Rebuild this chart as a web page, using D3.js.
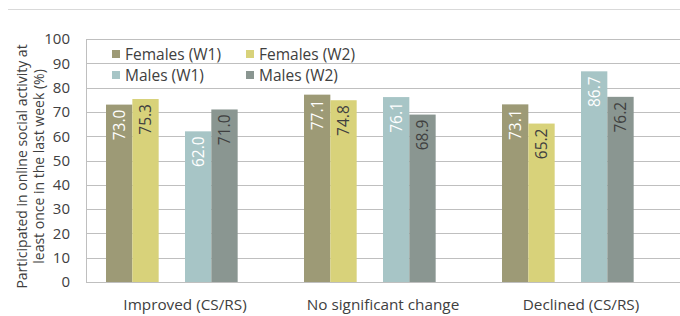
<!DOCTYPE html>
<html>
<head>
<meta charset="utf-8">
<script src="https://cdn.jsdelivr.net/npm/d3@7"></script>
<style>
  body { margin: 0; background: #fff; }
  svg { font-family: "Open Sans", sans-serif; }
</style>
</head>
<body>
<div id="chart"></div>
<script>
// categories along the x axis
var categories = ["Improved (CS/RS)", "No significant change", "Declined (CS/RS)"];
var seriesNames = ["Females (W1)", "Females (W2)", "Males (W1)", "Males (W2)"];
var femalesW1 = [73.0, 77.1, 73.1];
var femalesW2 = [75.3, 74.8, 65.2];
var malesW1 = [62.0, 76.1, 86.7];
var malesW2 = [71.0, 68.9, 76.2];
var yTicks = [0, 10, 20, 30, 40, 50, 60, 70, 80, 90, 100];

var seriesValues = [femalesW1, femalesW2, malesW1, malesW2];
var colors = ["#9d9a76", "#d8d27a", "#a7c5c6", "#8a9691"];
var labelColors = ["#fff", "#404040", "#fff", "#404040"];
// slot of each series inside a group (slots 2 and 5 are left empty)
var slots = [0, 1, 3, 4];

var width = 680, height = 316;
var plotLeft = 86, plotRight = 680, plotTop = 39, plotBottom = 282;

var svg = d3.select("#chart").append("svg")
            .attr("width", width)
            .attr("height", height);

// thin line across the top
svg.append("line")
   .attr("x1", 8).attr("x2", width)
   .attr("y1", 9.5).attr("y2", 9.5)
   .attr("stroke", "#d9d9d9");

var x0 = d3.scaleBand().domain(categories).range([plotLeft, plotRight]);
var x1 = d3.scaleBand().domain(d3.range(6)).range([0, x0.bandwidth()]).paddingOuter(0.76);
var y = d3.scaleLinear().domain([0, 100]).range([plotBottom, plotTop]);

// gridlines
svg.append("g")
   .selectAll("line")
   .data(yTicks)
   .enter()
   .append("line")
   .attr("x1", plotLeft).attr("x2", plotRight)
   .attr("y1", d => Math.round(y(d)) + 0.5)
   .attr("y2", d => Math.round(y(d)) + 0.5)
   .attr("stroke", "#bfbfbf");

// left axis line
svg.append("line")
   .attr("x1", plotLeft + 0.5).attr("x2", plotLeft + 0.5)
   .attr("y1", y(100)).attr("y2", y(0))
   .attr("stroke", "#bfbfbf");

// y tick labels
var yAxis = d3.axisLeft(y).tickValues(yTicks).tickSize(0).tickPadding(16);
var yg = svg.append("g")
   .attr("transform", `translate(${plotLeft},0)`)
   .call(yAxis);
yg.select(".domain").remove();
yg.selectAll("text")
  .attr("font-family", "Open Sans, sans-serif")
  .attr("font-size", 15)
  .attr("fill", "#404040");

// x category labels
var xAxis = d3.axisBottom(x0).tickSize(0).tickPadding(17);
var xg = svg.append("g")
   .attr("transform", `translate(0,${plotBottom})`)
   .call(xAxis);
xg.select(".domain").remove();
xg.selectAll("text")
  .attr("font-family", "Open Sans, sans-serif")
  .attr("font-size", 15.3)
  .attr("fill", "#404040");

// bars
var groups = svg.append("g")
   .selectAll("g")
   .data(categories)
   .enter()
   .append("g")
   .attr("transform", d => `translate(${x0(d)},0)`);

seriesNames.forEach(function(name, s) {
  groups.append("rect")
        .attr("x", (d, i) => x1(slots[s]))
        .attr("width", x1.bandwidth())
        .attr("y", (d, i) => y(seriesValues[s][i]))
        .attr("height", (d, i) => y(0) - y(seriesValues[s][i]))
        .attr("fill", colors[s]);

  groups.append("text")
        .attr("transform", (d, i) =>
          `translate(${x1(slots[s]) + x1.bandwidth() / 2 + 5.5},${y(seriesValues[s][i]) + 5})rotate(-90)`)
        .attr("text-anchor", "end")
        .attr("font-size", 15.5)
        .attr("fill", labelColors[s])
        .text((d, i) => seriesValues[s][i].toFixed(1));
});

// legend
var legendPos = [[112, 54], [246, 54], [112, 75], [246, 75]];
var legend = svg.append("g");
seriesNames.forEach(function(name, s) {
  var p = legendPos[s];
  legend.append("rect")
        .attr("x", p[0]).attr("y", p[1] - 4)
        .attr("width", 8).attr("height", 8)
        .attr("fill", colors[s]);
  legend.append("text")
        .attr("x", p[0] + 13).attr("y", p[1] + 5.5)
        .attr("font-size", 15.5)
        .attr("fill", "#404040")
        .text(name);
});

// y axis title
var yTitle = svg.append("text")
   .attr("transform", `translate(27,${(plotTop + plotBottom) / 2 + 6})rotate(-90)`)
   .attr("text-anchor", "middle")
   .attr("font-size", 14)
   .attr("fill", "#404040");
yTitle.append("tspan").attr("x", 0).attr("dy", 0).text("Participated in online social activity at");
yTitle.append("tspan").attr("x", 0).attr("dy", 17).text("least once in the last week (%)");
</script>
</body>
</html>
